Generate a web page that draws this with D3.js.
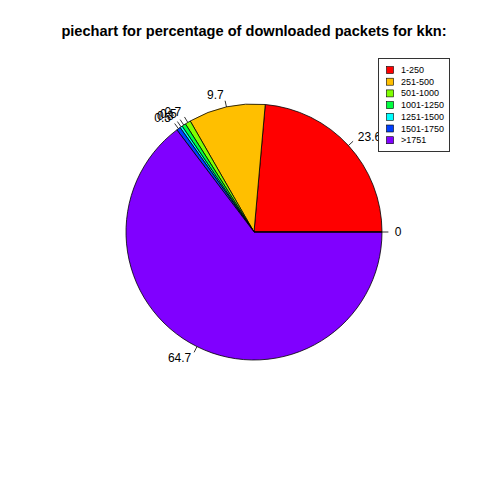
<!DOCTYPE html>
<html>
<head>
<meta charset="utf-8">
<script src="https://cdn.jsdelivr.net/npm/d3@7"></script>
<style>
body{margin:0;background:#fff;}
svg{display:block;font-family:"Liberation Sans",Arial,Helvetica,sans-serif;}
</style>
</head>
<body>
<svg id="chart" width="480" height="480"></svg>
<script>
const categories = ["1-250","251-500","501-1000","1001-1250","1251-1500","1501-1750",">1751"];
const sliceLabels = ["23.6","9.7","0.7","0.5","0.3","0.5","64.7","0"];
const values = [23.6,9.7,0.7,0.5,0.3,0.5,64.7,0];
const colors = ["#FF0000","#FFBF00","#80FF00","#00FF40","#00FFFF","#0040FF","#8000FF","#FF00BF"];
const title = "piechart for percentage of downloaded packets for kkn:";

const svg = d3.select("#chart");
const cx = 254, cy = 232, r = 128;

svg.append("text").attr("x", 254).attr("y", 36).attr("text-anchor","middle")
  .attr("font-size", 14.6).attr("font-weight","bold").text(title);

const pie = d3.pie().sort(null).value(d => d)
  .startAngle(Math.PI/2).endAngle(Math.PI/2 - 2*Math.PI);
const arcs = pie(values);
const arc = d3.arc().innerRadius(0).outerRadius(r);
const g = svg.append("g").attr("transform", `translate(${cx},${cy})`);

g.selectAll("path.slice").data(arcs).enter().append("path")
  .attr("class","slice")
  .attr("d", arc)
  .attr("fill", (d,i) => colors[i])
  .attr("stroke", "#000").attr("stroke-width", 0.8);

arcs.forEach((d,i) => {
  const a = (d.startAngle + d.endAngle)/2; // d3 angle: 0 = up, clockwise
  const ux = Math.sin(a), uy = -Math.cos(a);
  g.append("line")
    .attr("x1", ux*r).attr("y1", uy*r)
    .attr("x2", ux*r*1.05).attr("y2", uy*r*1.05)
    .attr("stroke","#000").attr("stroke-width",0.8);
  g.append("text")
    .attr("x", ux*r*1.1).attr("y", uy*r*1.1)
    .attr("text-anchor", ux < 0 ? "end" : "start")
    .attr("dominant-baseline","central")
    .attr("font-size", 12)
    .text(sliceLabels[i]);
});

// legend
const lg = svg.append("g");
lg.append("rect").attr("x", 378.5).attr("y", 58.5).attr("width", 71).attr("height", 93)
  .attr("fill","#fff").attr("stroke","#333").attr("stroke-width",1);
categories.forEach((c,i) => {
  const y = 70 + i*11.7;
  lg.append("rect").attr("x", 386.5).attr("y", y-3.5).attr("width", 7).attr("height", 7)
    .attr("fill", colors[i]).attr("stroke","#000").attr("stroke-width",0.6);
  lg.append("text").attr("x", 401).attr("y", y).attr("dominant-baseline","central")
    .attr("font-size", 9).text(c);
});
</script>
</body>
</html>
